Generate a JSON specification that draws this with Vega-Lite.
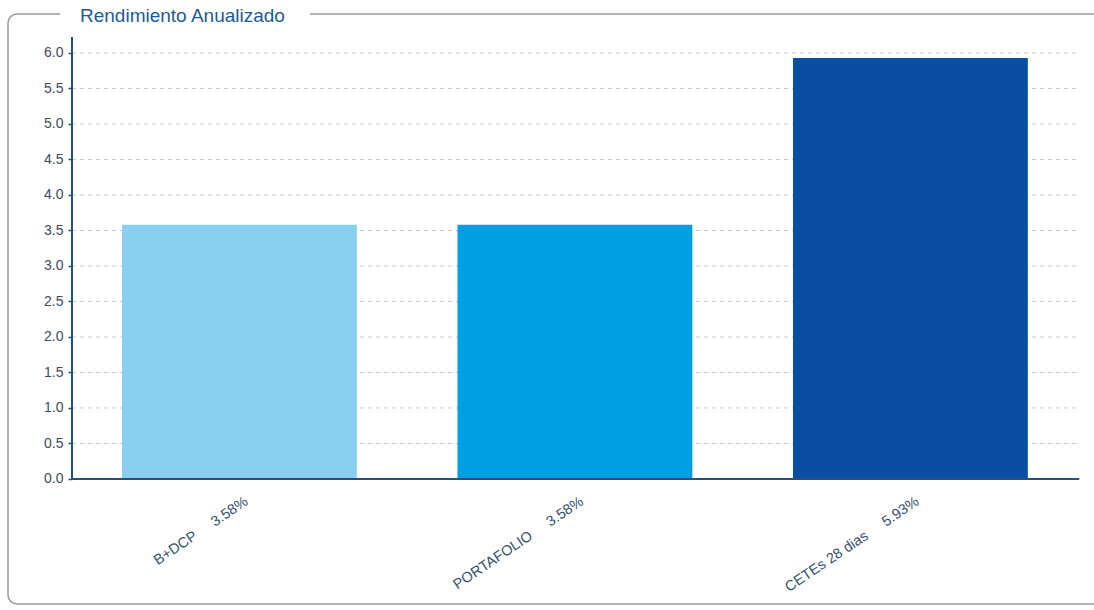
{
  "$schema": "https://vega.github.io/schema/vega-lite/v6.json",
  "width": 1086,
  "height": 591,
  "autosize": {"type": "none"},
  "padding": {"left": 8, "top": 14, "right": 0, "bottom": 5},
  "background": "white",
  "config": {
    "view": {"stroke": null},
    "font": "Liberation Sans",
    "axisX": {"disable": true},
    "axisY": {
      "offset": -64,
      "domain": false,
      "grid": false,
      "tickColor": "#1f4f80",
      "tickSize": 4,
      "tickWidth": 1.5,
      "labelPadding": 5,
      "labelFontSize": 14,
      "labelColor": "#3c4a5c",
      "labelFont": "Liberation Sans",
      "title": null
    }
  },
  "data": {
    "values": [
      {"instrumento": "B+DCP", "rendimiento": 3.58},
      {"instrumento": "PORTAFOLIO", "rendimiento": 3.58},
      {"instrumento": "CETEs 28 dias", "rendimiento": 5.93}
    ]
  },
  "layer": [
    {
      "data": {"values": [{}]},
      "mark": {"type": "rect", "fill": null, "stroke": "#9a9a9a", "strokeWidth": 1.5, "cornerRadiusTopLeft": 9, "cornerRadiusBottomLeft": 9},
      "encoding": {
        "x": {"datum": "B+DCP", "bandPosition": -0.4854},
        "x2": {"datum": "CETEs 28 dias", "bandPosition": 1.31},
        "y": {"datum": 6.549},
        "y2": {"datum": -1.76}
      }
    },
    {
      "data": {"values": [{}]},
      "mark": {"type": "rule", "color": "white", "strokeWidth": 6},
      "encoding": {
        "x": {"datum": "B+DCP", "bandPosition": -0.264},
        "x2": {"datum": "B+DCP", "bandPosition": 0.8005},
        "y": {"datum": 6.549}
      }
    },
    {
      "data": {"values": [{"v": 0.5}, {"v": 1.0}, {"v": 1.5}, {"v": 2.0}, {"v": 2.5}, {"v": 3.0}, {"v": 3.5}, {"v": 4.0}, {"v": 4.5}, {"v": 5.0}, {"v": 5.5}, {"v": 6.0}]},
      "mark": {"type": "rule", "color": "#c9c9c9", "strokeDash": [4, 4], "strokeWidth": 1},
      "encoding": {
        "x": {"datum": "B+DCP", "bandPosition": -0.2129},
        "x2": {"datum": "CETEs 28 dias", "bandPosition": 1.219},
        "y": {"field": "v", "type": "quantitative", "title": null}
      }
    },
    {
      "mark": {"type": "bar"},
      "encoding": {
        "x": {
          "field": "instrumento",
          "type": "nominal",
          "scale": {"domain": ["B+DCP", "PORTAFOLIO", "CETEs 28 dias"], "paddingInner": 0.3, "paddingOuter": 0.2685, "align": 0.6327}
        },
        "y": {
          "field": "rendimiento",
          "type": "quantitative",
          "title": null,
          "scale": {"domain": [-1.775, 6.549], "nice": false, "zero": false},
          "axis": {"values": [0, 0.5, 1, 1.5, 2, 2.5, 3, 3.5, 4, 4.5, 5, 5.5, 6], "format": ".1f"}
        },
        "y2": {"datum": 0},
        "color": {
          "field": "instrumento",
          "type": "nominal",
          "scale": {"domain": ["B+DCP", "PORTAFOLIO", "CETEs 28 dias"], "range": ["#89cff0", "#009fe3", "#0a4ea3"]},
          "legend": null
        }
      }
    },
    {
      "data": {"values": [{}]},
      "mark": {"type": "rule", "color": "#1f4f80", "strokeWidth": 2},
      "encoding": {
        "x": {"datum": "B+DCP", "bandPosition": -0.2129},
        "y": {"datum": 6.225},
        "y2": {"datum": 0}
      }
    },
    {
      "data": {"values": [{}]},
      "mark": {"type": "rule", "color": "#2a4f7a", "strokeWidth": 2},
      "encoding": {
        "x": {"datum": "B+DCP", "bandPosition": -0.2129},
        "x2": {"datum": "CETEs 28 dias", "bandPosition": 1.219},
        "y": {"datum": 0}
      }
    },
    {
      "transform": [
        {"calculate": "datum.instrumento + '\u00a0\u00a0\u00a0\u00a0\u00a0' + format(datum.rendimiento, '.2f') + '%'", "as": "etiqueta"}
      ],
      "mark": {"type": "text", "angle": 326, "align": "right", "baseline": "top", "dx": -6, "dy": 15, "fontSize": 14.5, "color": "#34506e", "font": "Liberation Sans"},
      "encoding": {
        "x": {"field": "instrumento", "type": "nominal"},
        "y": {"datum": 0},
        "text": {"field": "etiqueta"}
      }
    },
    {
      "data": {"values": [{"titulo": "Rendimiento Anualizado"}]},
      "mark": {"type": "text", "align": "left", "baseline": "middle", "fontSize": 19, "color": "#1d5a96", "font": "Liberation Sans"},
      "encoding": {
        "x": {"datum": "B+DCP", "bandPosition": -0.1788},
        "y": {"datum": 6.52},
        "text": {"field": "titulo"}
      }
    }
  ]
}
